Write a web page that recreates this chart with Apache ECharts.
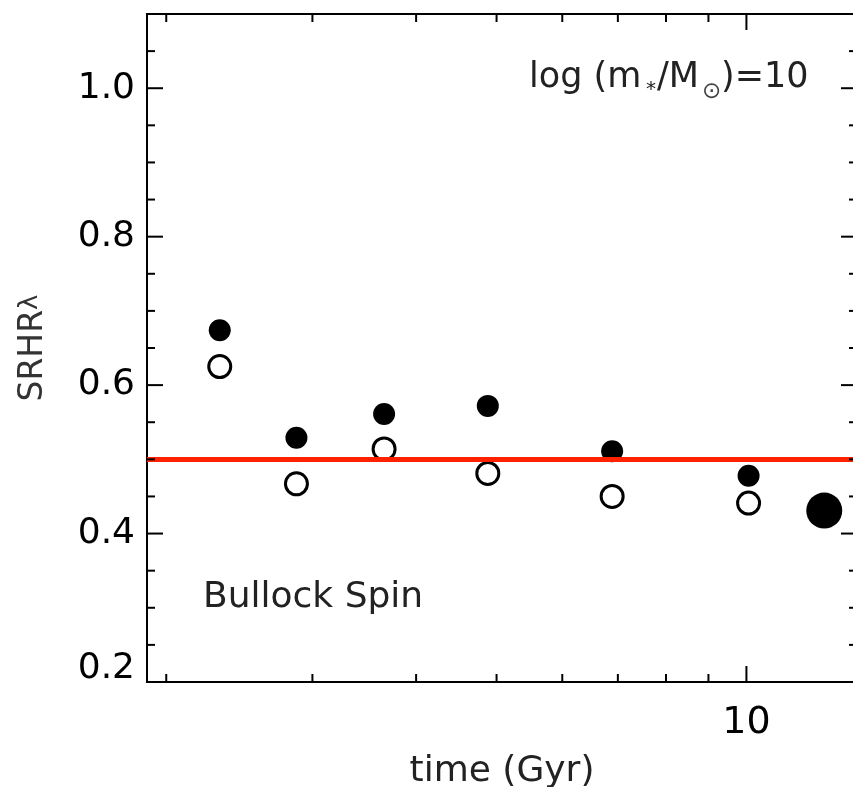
<!DOCTYPE html>
<html>
<head>
<meta charset="utf-8">
<script src="https://cdn.jsdelivr.net/npm/echarts@6/dist/echarts.min.js"></script>
<style>
html,body{margin:0;padding:0;background:#fff;}
#chart{width:853px;height:787px;}
</style>
</head>
<body>
<div id="chart"></div>
<script>
// ---- data ----
const times = [2.32, 2.87, 3.66, 4.88, 6.89, 10.06];
const filledValues = [0.674, 0.529, 0.561, 0.572, 0.511, 0.478];
const openValues = [0.625, 0.467, 0.514, 0.481, 0.450, 0.441];
const bigTime = [12.41];
const bigValue = [0.431];
const refLevel = 0.5;

const xRange = [1.896, 13.59];
const yRange = [0.2, 1.1];
const xMajorTicks = [10];
const xMinorTicks = [2, 3, 4, 5, 6, 7, 8, 9];
const yMajorTicks = [0.2, 0.4, 0.6, 0.8, 1.0];
const yMinorTicks = [0.25, 0.3, 0.35, 0.45, 0.5, 0.55, 0.65, 0.7, 0.75, 0.85, 0.9, 0.95, 1.05];
const xLabels = ['10'];

const FONT = 'DejaVu Sans';

const tickData = [];
xMajorTicks.forEach(v => tickData.push([v, yRange[0], 0]));
xMinorTicks.forEach(v => tickData.push([v, yRange[0], 1]));
yMajorTicks.forEach(v => tickData.push([xRange[0], v, 2]));
yMinorTicks.forEach(v => tickData.push([xRange[0], v, 3]));

const MAJOR = 16, MINOR = 8;

function renderTick(params, api) {
  const v0 = api.value(0), v1 = api.value(1), k = api.value(2);
  const st = { stroke: '#000', lineWidth: 2 };
  let a, b, len;
  if (k === 0 || k === 1) {
    len = k === 0 ? MAJOR : MINOR;
    a = api.coord([v0, yRange[0]]);
    b = api.coord([v0, yRange[1]]);
    return { type: 'group', children: [
      { type: 'line', shape: { x1: a[0], y1: a[1], x2: a[0], y2: a[1] - len }, style: st },
      { type: 'line', shape: { x1: b[0], y1: b[1], x2: b[0], y2: b[1] + len }, style: st }
    ]};
  } else {
    len = k === 2 ? MAJOR : MINOR;
    a = api.coord([xRange[0], v1]);
    b = api.coord([xRange[1], v1]);
    return { type: 'group', children: [
      { type: 'line', shape: { x1: a[0], y1: a[1], x2: a[0] + len, y2: a[1] }, style: st },
      { type: 'line', shape: { x1: b[0], y1: b[1], x2: b[0] - len, y2: b[1] }, style: st }
    ]};
  }
}

const chart = echarts.init(document.getElementById('chart'), null, { renderer: 'canvas' });
chart.setOption({
  backgroundColor: '#fff',
  animation: false,
  textStyle: { fontFamily: FONT },
  grid: {
    left: 147, top: 14, right: -4, bottom: 105,
    show: true, borderColor: '#000', borderWidth: 2,
    containLabel: false, outerBoundsMode: 'none'
  },
  xAxis: {
    type: 'log', logBase: 10, min: xRange[0], max: xRange[1],
    splitLine: { show: false },
    axisLine: { show: false },
    axisTick: { show: false },
    minorTick: { show: false },
    axisLabel: {
      margin: 22, color: '#000', fontSize: 38, fontFamily: FONT,
      showMinLabel: false, showMaxLabel: false,
      formatter: v => {
        const m = xLabels.find(l => Math.abs(parseFloat(l) - v) < 1e-6);
        return m || '';
      }
    },
    name: 'time (Gyr)', nameLocation: 'middle', nameGap: 72,
    nameTextStyle: { fontSize: 36, color: '#222', fontFamily: FONT }
  },
  yAxis: {
    type: 'value', min: yRange[0], max: yRange[1], interval: 0.2,
    splitLine: { show: false },
    axisLine: { show: false },
    axisTick: { show: false },
    axisLabel: {
      margin: 12, color: '#000', fontSize: 36, fontFamily: FONT,
      formatter: v => {
        if (!yMajorTicks.some(t => Math.abs(t - v) < 1e-6)) return '';
        return Math.abs(v - yRange[0]) < 1e-6 ? '{lo|' + v.toFixed(1) + '}' : v.toFixed(1);
      },
      rich: { lo: { fontSize: 36, color: '#000', fontFamily: FONT, padding: [0, 0, 26, 0] } }
    },
    name: 'SRHR{l|λ}', nameLocation: 'middle', nameGap: 97, nameRotate: 90,
    nameTextStyle: {
      fontSize: 33, color: '#333', fontFamily: FONT,
      rich: { l: { fontSize: 26, color: '#333', fontFamily: FONT, verticalAlign: 'top' } }
    }
  },
  series: [
    {
      type: 'custom', renderItem: renderTick, data: tickData,
      silent: true, z: 10, clip: false
    },
    {
      type: 'scatter', name: 'filled',
      data: times.map((t, i) => [t, filledValues[i]]),
      symbol: 'circle', symbolSize: 22,
      itemStyle: { color: '#000', opacity: 1 }, z: 2
    },
    {
      type: 'scatter', name: 'open',
      data: times.map((t, i) => [t, openValues[i]]),
      symbol: 'circle', symbolSize: 22,
      itemStyle: { color: '#fff', borderColor: '#000', borderWidth: 3, opacity: 1 }, z: 2
    },
    {
      type: 'scatter', name: 'big',
      data: bigTime.map((t, i) => [t, bigValue[i]]),
      symbol: 'circle', symbolSize: 36,
      itemStyle: { color: '#000', opacity: 1 }, z: 2
    },
    {
      type: 'line', data: [], z: 5,
      markLine: {
        silent: true, symbol: 'none', label: { show: false },
        lineStyle: { color: '#ff2200', width: 5, type: 'solid' },
        data: [{ yAxis: refLevel }]
      }
    }
  ],
  graphic: [
    { type: 'text', left: 203, top: 580, style: { text: 'Bullock Spin', font: '36px "DejaVu Sans"', fill: '#222' } },
    { type: 'text', left: 529, top: 60, style: { text: 'log (m', font: '35px "DejaVu Sans"', fill: '#222' } },
    { type: 'text', left: 646, top: 80, style: { text: '*', font: '20px "DejaVu Sans"', fill: '#222' } },
    { type: 'text', left: 657, top: 60, style: { text: '/M', font: '35px "DejaVu Sans"', fill: '#222' } },
    { type: 'text', left: 702, top: 81, style: { text: '⊙', font: '23px "DejaVu Sans"', fill: '#444' } },
    { type: 'text', left: 721, top: 60, style: { text: ')=10', font: '35px "DejaVu Sans"', fill: '#222' } }
  ]
});
</script>
</body>
</html>
